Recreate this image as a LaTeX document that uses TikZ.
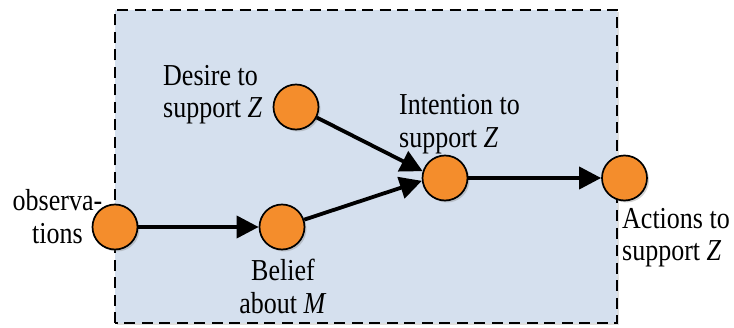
\documentclass[tikz,border=0pt]{standalone}
\usepackage{fontspec}
\setmainfont{Liberation Serif}
\usetikzlibrary{arrows.meta,shadows}
\definecolor{boxfill}{HTML}{D5E0EE}
\definecolor{nodeorange}{HTML}{F48D2C}
\begin{document}
\begin{tikzpicture}[x=1pt,y=1pt,
  state/.style={circle,draw=black,line width=1.7pt,fill=nodeorange,
    minimum size=45pt,inner sep=0pt,
    drop shadow={opacity=0.35,shadow xshift=2pt,shadow yshift=-2pt}},
  lbl/.style={inner sep=0pt,yscale=1.17,transform shape,
    font=\fontsize{26}{27.8}\selectfont},
  flow/.style={line width=3.8pt,-{Triangle[length=22pt,width=22pt]}},
  frame/.style={draw=black,line width=2.3pt,dash pattern=on 11pt off 6.5pt,fill=boxfill,
    drop shadow={opacity=0.25,shadow xshift=2pt,shadow yshift=-2pt}}]
  \useasboundingbox (0,0) rectangle (734,327);
  % agent boundary
  \path[frame] (115,4) rectangle (617,317);
  % states
  \node[state] (obs) at (115,100) {};
  \node[state] (bel) at (282,100) {};
  \node[state] (des) at (296,220) {};
  \node[state] (int) at (445,149) {};
  \node[state] (act) at (624.5,149) {};
  % labels
  \node[lbl,align=center] (obsl) at (57.5,110.5) {observa-\\tions};
  \node[lbl,align=center] (bell) at (283,40.5) {Belief\\about \textit{M}};
  \node[lbl,align=left,anchor=west] (desl) at (163,232.5) {Desire to\\support \textit{Z}};
  \node[lbl,align=left,anchor=west] (intl) at (399,203) {Intention to\\support \textit{Z}};
  \node[lbl,align=left,anchor=west] (actl) at (622,89.5) {Actions to\\support \textit{Z}};
  % connectors
  \draw[flow] (obs) -- (bel);
  \draw[flow] (des) -- (int.163);
  \draw[flow] (bel) -- (int.187);
  \draw[flow] (int) -- (act);
\end{tikzpicture}
\end{document}
